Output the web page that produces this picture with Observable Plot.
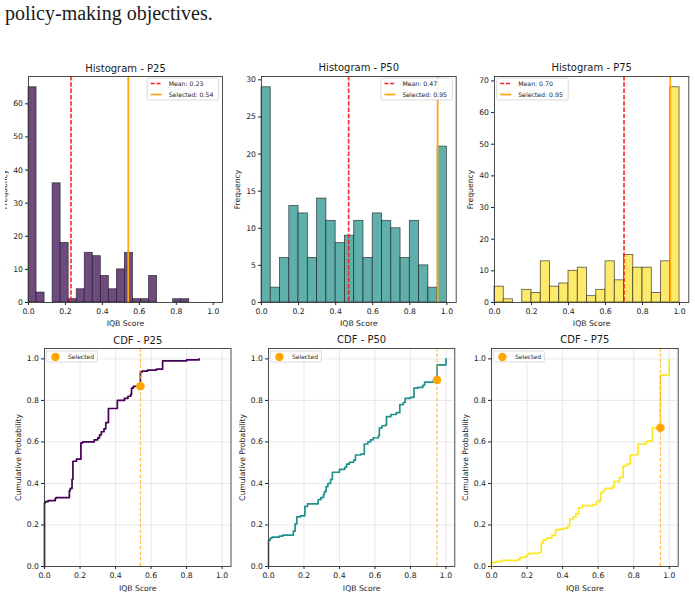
<!DOCTYPE html>
<html>
<head>
<meta charset="utf-8">
<script src="https://cdn.jsdelivr.net/npm/d3@7"></script>
<script src="https://cdn.jsdelivr.net/npm/@observablehq/plot@0.6"></script>
<style>
  html, body { margin: 0; padding: 0; background: #fff; }
  body { width: 695px; height: 597px; overflow: hidden; position: relative; }
  #lead { position: absolute; left: 5px; top: 2px; font: 20px "Liberation Serif", "DejaVu Serif", serif; color: #1a1a1a; white-space: nowrap; }
  #fig { position: absolute; left: 5px; top: 40px; width: 690px; height: 557px; overflow: hidden; }
  #fig > svg { position: absolute; }
</style>
</head>
<body>
<div id="lead">policy-making objectives.</div>
<div id="fig"></div>
<script>
// ---- data ---------------------------------------------------------------
const percentiles = ["P25", "P50", "P75"];
const meanScores = [0.23, 0.47, 0.70];
const selectedScores = [0.54, 0.95, 0.95];

// histogram: 20 equal bins over each series' score range
const binExtents = [[0, 0.87], [0, 1], [0, 1]];
const countsP25 = [65, 3, 0, 36, 18, 1, 4, 15, 14, 8, 4, 10, 15, 1, 1, 8, 0, 0, 1, 1];
const countsP50 = [29, 2, 6, 13, 12, 6, 14, 11, 8, 9, 11, 6, 12, 11, 10, 6, 11, 5, 2, 21];
const countsP75 = [5, 1, 0, 4, 3, 13, 5, 6, 10, 11, 2, 4, 13, 7, 15, 11, 11, 3, 13, 68];

// empirical CDF steps: score where the step occurs, cumulative probability after it
const cdfScoreP25 = [0, 0, 0.005, 0.02, 0.06, 0.065, 0.14, 0.145, 0.155, 0.16, 0.18, 0.205, 0.215, 0.28, 0.30, 0.31, 0.32, 0.335, 0.345, 0.36, 0.41, 0.45, 0.47, 0.485, 0.49, 0.50, 0.54, 0.55, 0.58, 0.63, 0.665, 0.80, 0.87];
const cdfProbP25  = [0, 0.307, 0.312, 0.317, 0.327, 0.332, 0.366, 0.376, 0.420, 0.507, 0.517, 0.595, 0.600, 0.610, 0.620, 0.634, 0.649, 0.663, 0.693, 0.761, 0.800, 0.810, 0.820, 0.829, 0.859, 0.868, 0.937, 0.941, 0.946, 0.951, 0.990, 0.995, 1.0];
const cdfScoreP50 = [0, 0, 0.01, 0.02, 0.06, 0.08, 0.14, 0.15, 0.16, 0.18, 0.205, 0.22, 0.28, 0.295, 0.31, 0.315, 0.325, 0.335, 0.35, 0.36, 0.40, 0.43, 0.44, 0.455, 0.48, 0.49, 0.52, 0.54, 0.56, 0.575, 0.59, 0.62, 0.625, 0.64, 0.66, 0.665, 0.69, 0.72, 0.74, 0.76, 0.77, 0.80, 0.82, 0.84, 0.87, 0.88, 0.93, 0.95, 1.0];
const cdfProbP50  = [0, 0.127, 0.137, 0.141, 0.146, 0.151, 0.170, 0.205, 0.239, 0.244, 0.290, 0.302, 0.322, 0.332, 0.346, 0.361, 0.385, 0.400, 0.420, 0.454, 0.468, 0.478, 0.493, 0.502, 0.512, 0.537, 0.541, 0.590, 0.600, 0.610, 0.620, 0.630, 0.668, 0.678, 0.683, 0.722, 0.732, 0.741, 0.780, 0.790, 0.810, 0.815, 0.859, 0.863, 0.873, 0.888, 0.898, 0.971, 1.0];
const cdfScoreP75 = [0, 0, 0.03, 0.06, 0.15, 0.16, 0.19, 0.20, 0.21, 0.27, 0.28, 0.29, 0.31, 0.34, 0.36, 0.38, 0.41, 0.43, 0.44, 0.46, 0.475, 0.49, 0.51, 0.57, 0.59, 0.61, 0.615, 0.63, 0.64, 0.68, 0.69, 0.72, 0.74, 0.76, 0.78, 0.82, 0.825, 0.87, 0.88, 0.905, 0.95, 1.0];
const cdfProbP75  = [0, 0.020, 0.024, 0.029, 0.034, 0.044, 0.049, 0.058, 0.063, 0.068, 0.112, 0.127, 0.137, 0.151, 0.176, 0.180, 0.185, 0.195, 0.229, 0.239, 0.254, 0.283, 0.293, 0.298, 0.312, 0.322, 0.356, 0.366, 0.376, 0.385, 0.410, 0.429, 0.483, 0.493, 0.537, 0.541, 0.590, 0.600, 0.605, 0.668, 0.922, 1.0];

const scoreTicks = [0, 0.2, 0.4, 0.6, 0.8, 1.0];
const probTicks = [0, 0.2, 0.4, 0.6, 0.8, 1.0];
const freqTicks = [[0, 10, 20, 30, 40, 50, 60], [0, 5, 10, 15, 20, 25, 30], [0, 10, 20, 30, 40, 50, 60, 70]];

// ---- styling ------------------------------------------------------------
const lineColors = ["#440154", "#21918c", "#fde725"];
const barColors = ["#6f4a80", "#5fb0ab", "#fde96a"];
const histCounts = [countsP25, countsP50, countsP75];
const cdfScores = [cdfScoreP25, cdfScoreP50, cdfScoreP75];
const cdfProbs = [cdfProbP25, cdfProbP50, cdfProbP75];

// frame boxes [left, right, top, bottom] in page pixels
const histFrames = [[28, 222, 75.7, 301.7], [261, 455.7, 75.7, 301.7], [494, 688.3, 75.7, 301.7]];
const cdfFrames = [[44.3, 230.8, 347.7, 565.7], [267.7, 454, 347.7, 565.7], [491, 677.7, 347.7, 565.7]];

const fig = document.getElementById("fig");
const FIG_X = 5, FIG_Y = 40;
const ML = 45, MR = 14, MT = 26, MB = 32;
const f1 = d3.format(".1f"), f2 = d3.format(".2f");

function panel(frame, o) {
  const [l, r, t, b] = frame;
  const svg = Plot.plot({
    width: r - l + ML + MR,
    height: b - t + MT + MB,
    marginLeft: ML, marginRight: MR, marginTop: MT, marginBottom: MB,
    style: {fontFamily: "'DejaVu Sans', sans-serif", fontSize: "7.7px", color: "#222", background: "none", overflow: "visible"},
    x: {domain: [0, 1.05], ticks: scoreTicks, tickFormat: f1, tickSize: 3, tickPadding: 3.5,
        label: "IQB Score", labelAnchor: "center", labelArrow: "none", labelOffset: o.xLabelOffset},
    y: {domain: o.yDomain, ticks: o.yTicks, tickFormat: o.yFormat, tickSize: 3, tickPadding: 2.5,
        label: o.yLabel, labelAnchor: "center", labelArrow: "none", labelOffset: o.yLabelOffset},
    marks: [
      ...o.marks,
      Plot.frame({stroke: "#3a3a3a", strokeWidth: 0.9}),
      Plot.text([o.title], {text: d => d, frameAnchor: "top", dy: -5, lineAnchor: "bottom", fontSize: 10, fill: "#1a1a1a"})
    ]
  });
  svg.style.left = (l - ML - FIG_X) + "px";
  svg.style.top = (t - MT - FIG_Y) + "px";
  fig.appendChild(svg);
  return {svg: d3.select(svg), x0: ML, y0: MT, x1: ML + (r - l), y1: MT + (b - t)};
}

// ---- histograms ---------------------------------------------------------
percentiles.forEach((p, i) => {
  const counts = histCounts[i];
  const [lo, hi] = binExtents[i];
  const w = (hi - lo) / counts.length;
  const bins = counts.map((c, j) => ({x1: lo + j * w, x2: lo + (j + 1) * w, count: c}));
  const P = panel(histFrames[i], {
    title: `Histogram - ${p}`,
    yDomain: [0, d3.max(counts) * 1.05],
    yTicks: freqTicks[i],
    yFormat: d3.format("d"),
    yLabel: "Frequency",
    yLabelOffset: 26.5,
    xLabelOffset: 23.3,
    marks: [
      Plot.rectY(bins, {x1: "x1", x2: "x2", y: "count", fill: barColors[i], stroke: "#111", strokeOpacity: 0.7, strokeWidth: 0.8}),
      Plot.ruleX([meanScores[i]], {stroke: "#ff1a1a", strokeOpacity: 0.9, strokeWidth: 1.7, strokeDasharray: "4.5,1.8"}),
      Plot.ruleX([selectedScores[i]], {stroke: "#ffa514", strokeWidth: 1.8})
    ]
  });
  // legend box
  const lw = 71.5, lh = 22;
  const lx = i === 2 ? P.x0 + 2.7 : P.x1 - 3.3 - lw;
  const ly = P.y0 + 2;
  const g = P.svg.append("g").attr("font-family", "'DejaVu Sans', sans-serif").attr("font-size", 6.2)
    .attr("fill", "#222").attr("text-anchor", "start");
  g.append("rect").attr("x", lx).attr("y", ly).attr("width", lw).attr("height", lh).attr("rx", 1.5)
    .attr("fill", "#fff").attr("fill-opacity", 0.85).attr("stroke", "#d0d0d0").attr("stroke-width", 0.8);
  const rows = [
    {label: `Mean: ${f2(meanScores[i])}`, stroke: "#ff1a1a", dash: "4,1.8"},
    {label: `Selected: ${f2(selectedScores[i])}`, stroke: "#ffa514", dash: null}
  ];
  rows.forEach((row, k) => {
    const cy = ly + 5.5 + k * 11;
    g.append("line").attr("x1", lx + 3.5).attr("x2", lx + 14.5).attr("y1", cy).attr("y2", cy)
      .attr("stroke", row.stroke).attr("stroke-width", 1.7).attr("stroke-dasharray", row.dash);
    g.append("text").attr("x", lx + 21.5).attr("y", cy + 2.2).text(row.label);
  });
});

// ---- cumulative distributions --------------------------------------------
percentiles.forEach((p, i) => {
  const xs = cdfScores[i], ys = cdfProbs[i];
  const steps = xs.map((x, j) => ({score: x, prob: ys[j]}));
  const sel = selectedScores[i];
  // probability reached just before the selected score
  const atSel = d3.max(steps.filter(s => s.score < sel), s => s.prob);
  const P = panel(cdfFrames[i], {
    title: `CDF - ${p}`,
    yDomain: [0, 1.05],
    yTicks: probTicks,
    yFormat: f1,
    yLabel: "Cumulative Probability",
    yLabelOffset: 28.8,
    xLabelOffset: 24.3,
    marks: [
      Plot.gridX(scoreTicks, {stroke: "#b0b0b0", strokeOpacity: 0.35, strokeWidth: 0.8}),
      Plot.gridY(probTicks, {stroke: "#b0b0b0", strokeOpacity: 0.35, strokeWidth: 0.8}),
      Plot.line(steps, {x: "score", y: "prob", curve: "step-after", stroke: lineColors[i], strokeWidth: 1.7}),
      Plot.ruleX([sel], {stroke: "#ffa514", strokeOpacity: 0.75, strokeWidth: 1.2, strokeDasharray: "3.5,2"}),
      Plot.dot([{score: sel, prob: atSel}], {x: "score", y: "prob", r: 4.3, fill: "#ffa500", stroke: "none"})
    ]
  });
  const lx = P.x0 + 2.4, ly = P.y0 + 3;
  const g = P.svg.append("g").attr("font-family", "'DejaVu Sans', sans-serif").attr("font-size", 6)
    .attr("fill", "#222").attr("text-anchor", "start");
  g.append("rect").attr("x", lx).attr("y", ly).attr("width", 51).attr("height", 11).attr("rx", 1.5)
    .attr("fill", "#fff").attr("fill-opacity", 0.85).attr("stroke", "#d0d0d0").attr("stroke-width", 0.8);
  g.append("circle").attr("cx", lx + 9).attr("cy", ly + 6).attr("r", 4.2).attr("fill", "#ffa500");
  g.append("text").attr("x", lx + 21.6).attr("y", ly + 8.2).text("Selected");
});
</script>
</body>
</html>
